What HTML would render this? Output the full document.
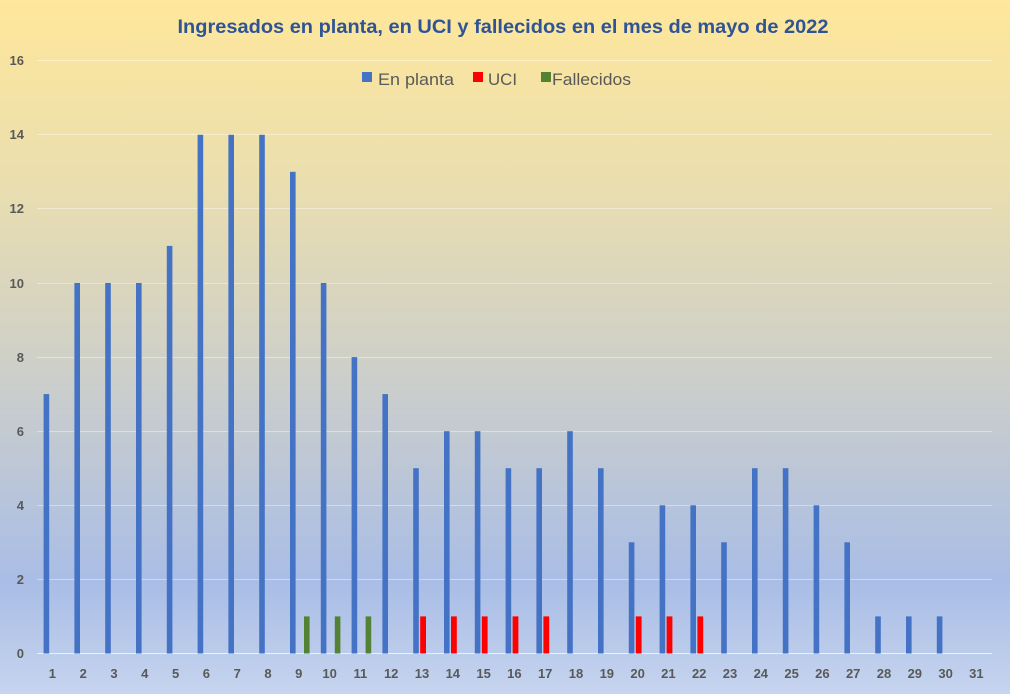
<!DOCTYPE html>
<html><head><meta charset="utf-8"><style>
html,body{margin:0;padding:0;}
body{width:1010px;height:694px;overflow:hidden;}
svg{display:block;}
</style></head><body>
<svg width="1010" height="694" viewBox="0 0 1010 694" xmlns="http://www.w3.org/2000/svg" font-family="'Liberation Sans', Arial, sans-serif">
<defs>
<linearGradient id="bg" x1="0" y1="0" x2="0" y2="1">
<stop offset="0" stop-color="#ffe79b"/>
<stop offset="0.25" stop-color="#ebdfae"/>
<stop offset="0.5" stop-color="#d1d1c6"/>
<stop offset="0.84" stop-color="#a9bde6"/>
<stop offset="1" stop-color="#c6d4ee"/>
</linearGradient>
</defs>
<rect x="0" y="0" width="1010" height="694" fill="url(#bg)"/>
<text x="503" y="33" text-anchor="middle" font-size="19" font-weight="bold" fill="#2f5496" textLength="651" lengthAdjust="spacingAndGlyphs">Ingresados en planta, en UCI y fallecidos en el mes de mayo de 2022</text>
<g stroke="#ffffff" stroke-opacity="0.4" stroke-width="1">
<line x1="37" x2="992" y1="60.5" y2="60.5"/>
<line x1="37" x2="992" y1="134.5" y2="134.5"/>
<line x1="37" x2="992" y1="208.5" y2="208.5"/>
<line x1="37" x2="992" y1="283.5" y2="283.5"/>
<line x1="37" x2="992" y1="357.5" y2="357.5"/>
<line x1="37" x2="992" y1="431.5" y2="431.5"/>
<line x1="37" x2="992" y1="505.5" y2="505.5"/>
<line x1="37" x2="992" y1="579.5" y2="579.5"/>
<line x1="37" x2="992" y1="653.5" y2="653.5" stroke-opacity="0.7"/>
</g>
<g font-size="13" font-weight="bold" fill="#595959" text-anchor="end">
<text x="24" y="65">16</text>
<text x="24" y="139">14</text>
<text x="24" y="213">12</text>
<text x="24" y="288">10</text>
<text x="24" y="362">8</text>
<text x="24" y="436">6</text>
<text x="24" y="510">4</text>
<text x="24" y="584">2</text>
<text x="24" y="658">0</text>
</g>
<g>
<rect x="362" y="72" width="10" height="10" fill="#4472c4"/>
<text x="378" y="85" font-size="17" fill="#595959" textLength="76" lengthAdjust="spacingAndGlyphs">En planta</text>
<rect x="473" y="72" width="10" height="10" fill="#ff0000"/>
<text x="488" y="85" font-size="17" fill="#595959" textLength="29" lengthAdjust="spacingAndGlyphs">UCI</text>
<rect x="541" y="72" width="10" height="10" fill="#548235"/>
<text x="552" y="85" font-size="17" fill="#595959" textLength="79" lengthAdjust="spacingAndGlyphs">Fallecidos</text>
</g>
<g fill="#4472c4">
<rect x="43.6" y="394.1" width="5.6" height="259.4"/>
<rect x="74.4" y="283.0" width="5.6" height="370.5"/>
<rect x="105.2" y="283.0" width="5.6" height="370.5"/>
<rect x="136.0" y="283.0" width="5.6" height="370.5"/>
<rect x="166.8" y="245.9" width="5.6" height="407.6"/>
<rect x="197.6" y="134.8" width="5.6" height="518.7"/>
<rect x="228.4" y="134.8" width="5.6" height="518.7"/>
<rect x="259.2" y="134.8" width="5.6" height="518.7"/>
<rect x="290.0" y="171.8" width="5.6" height="481.7"/>
<rect x="320.8" y="283.0" width="5.6" height="370.5"/>
<rect x="351.6" y="357.1" width="5.6" height="296.4"/>
<rect x="382.4" y="394.1" width="5.6" height="259.4"/>
<rect x="413.2" y="468.2" width="5.6" height="185.3"/>
<rect x="444.0" y="431.2" width="5.6" height="222.3"/>
<rect x="474.8" y="431.2" width="5.6" height="222.3"/>
<rect x="505.6" y="468.2" width="5.6" height="185.3"/>
<rect x="536.4" y="468.2" width="5.6" height="185.3"/>
<rect x="567.2" y="431.2" width="5.6" height="222.3"/>
<rect x="598.0" y="468.2" width="5.6" height="185.3"/>
<rect x="628.8" y="542.3" width="5.6" height="111.2"/>
<rect x="659.6" y="505.3" width="5.6" height="148.2"/>
<rect x="690.4" y="505.3" width="5.6" height="148.2"/>
<rect x="721.2" y="542.3" width="5.6" height="111.2"/>
<rect x="752.0" y="468.2" width="5.6" height="185.3"/>
<rect x="782.8" y="468.2" width="5.6" height="185.3"/>
<rect x="813.6" y="505.3" width="5.6" height="148.2"/>
<rect x="844.4" y="542.3" width="5.6" height="111.2"/>
<rect x="875.2" y="616.4" width="5.6" height="37.1"/>
<rect x="906.0" y="616.4" width="5.6" height="37.1"/>
<rect x="936.8" y="616.4" width="5.6" height="37.1"/>
</g>
<g fill="#ff0000">
<rect x="420.2" y="616.4" width="5.8" height="37.1"/>
<rect x="451.0" y="616.4" width="5.8" height="37.1"/>
<rect x="481.8" y="616.4" width="5.8" height="37.1"/>
<rect x="512.6" y="616.4" width="5.8" height="37.1"/>
<rect x="543.4" y="616.4" width="5.8" height="37.1"/>
<rect x="635.8" y="616.4" width="5.8" height="37.1"/>
<rect x="666.6" y="616.4" width="5.8" height="37.1"/>
<rect x="697.4" y="616.4" width="5.8" height="37.1"/>
</g>
<g fill="#548235">
<rect x="304.0" y="616.4" width="5.6" height="37.1"/>
<rect x="334.8" y="616.4" width="5.6" height="37.1"/>
<rect x="365.6" y="616.4" width="5.6" height="37.1"/>
</g>
<g font-size="13" font-weight="bold" fill="#595959" text-anchor="middle">
<text x="52.4" y="678">1</text><text x="83.2" y="678">2</text><text x="114.0" y="678">3</text><text x="144.8" y="678">4</text><text x="175.6" y="678">5</text><text x="206.4" y="678">6</text><text x="237.2" y="678">7</text><text x="268.0" y="678">8</text><text x="298.8" y="678">9</text><text x="329.6" y="678">10</text><text x="360.4" y="678">11</text><text x="391.2" y="678">12</text><text x="422.0" y="678">13</text><text x="452.8" y="678">14</text><text x="483.6" y="678">15</text><text x="514.4" y="678">16</text><text x="545.2" y="678">17</text><text x="576.0" y="678">18</text><text x="606.8" y="678">19</text><text x="637.6" y="678">20</text><text x="668.4" y="678">21</text><text x="699.2" y="678">22</text><text x="730.0" y="678">23</text><text x="760.8" y="678">24</text><text x="791.6" y="678">25</text><text x="822.4" y="678">26</text><text x="853.2" y="678">27</text><text x="884.0" y="678">28</text><text x="914.8" y="678">29</text><text x="945.6" y="678">30</text><text x="976.4" y="678">31</text>
</g>
</svg>
</body></html>
